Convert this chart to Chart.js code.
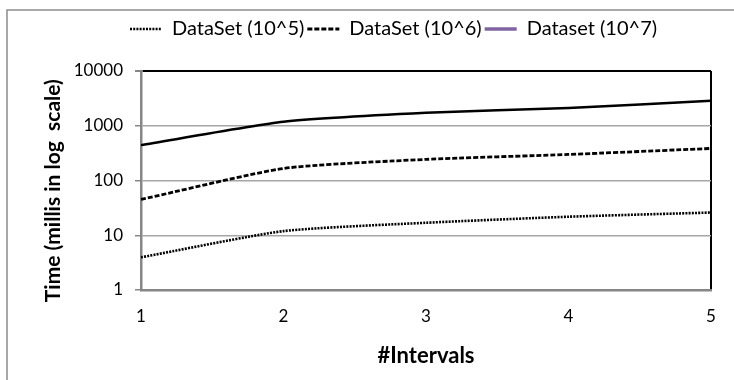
<!DOCTYPE html>
<html>
<head>
<meta charset="utf-8">
<script src="https://cdn.jsdelivr.net/npm/chart.js@4/dist/chart.umd.min.js"></script>
<style>
  body { margin: 0; background: #fff; }
  #wrap { width: 734px; height: 380px; }
</style>
</head>
<body>
<div id="wrap"><canvas id="timeChart" width="734" height="380"></canvas></div>
<script>
// values
const intervals = ['1', '2', '3', '4', '5'];
const seriesNames = ['DataSet (10^5)', 'DataSet (10^6)', 'Dataset (10^7)'];
const data1e5 = [3.95, 11.9, 16.9, 21.8, 26];
const data1e6 = [45, 166, 243, 299, 385];
const data1e7 = [443, 1180, 1720, 2120, 2850];
const yTicks = [1, 10, 100, 1000, 10000];

const FONT = "Lato, sans-serif";

// white background + outer chart frame
const framePlugin = {
    id: 'frame',
    beforeDraw(chart) {
        const ctx = chart.ctx;
        ctx.save();
        ctx.fillStyle = '#fff';
        ctx.fillRect(0, 0, chart.width, chart.height);
        ctx.strokeStyle = '#8c8c8c';
        ctx.lineWidth = 1.5;
        ctx.strokeRect(7, 10, 900, 500);
        ctx.restore();
    }
};

// push the plot area down below the legend, and move the legend right like the original
const legendPlace = {
    id: 'legendPlace',
    beforeInit(chart) {
        const fit = chart.legend.fit;
        chart.legend.fit = function () {
            fit.bind(chart.legend)();
            this.height += 22;
        };
    },
    afterLayout(chart) {
        chart.legend.left += 115;
    }
};

function renderTimeChart() {
    const ctx = document.getElementById('timeChart').getContext('2d');
    new Chart(ctx, {
        type: 'line',
        data: {
            labels: intervals,
            datasets: [{
                label: seriesNames[0],
                data: data1e5,
                borderColor: '#000',
                borderWidth: 2.6,
                borderDash: [2, 1.2]
            }, {
                label: seriesNames[1],
                data: data1e6,
                borderColor: '#000',
                borderWidth: 2.8,
                borderDash: [5, 2]
            }, {
                label: seriesNames[2],
                data: data1e7,
                borderColor: '#000',
                borderWidth: 2.5
            }]
        },
        options: {
            responsive: false,
            animation: false,
            elements: {
                point: { radius: 0 },
                line: { tension: 0.2 }
            },
            layout: { padding: { left: 12, right: 23, top: 16, bottom: 0 } },
            plugins: {
                tooltip: { enabled: false },
                legend: {
                    position: 'top',
                    align: 'start',
                    labels: {
                        usePointStyle: true,
                        pointStyleWidth: 32,
                        padding: 3,
                        color: '#000',
                        font: { family: FONT, size: 20 },
                        generateLabels(chart) {
                            const items = Chart.defaults.plugins.legend.labels.generateLabels(chart);
                            items.forEach((it, i) => {
                                const ds = chart.data.datasets[i];
                                it.pointStyle = 'line';
                                it.lineDash = ds.borderDash || [];
                                it.lineWidth = ds.borderWidth;
                                it.strokeStyle = '#000';
                            });
                            // the original legend shows the last series in purple
                            items[2].strokeStyle = '#8064a2';
                            items[2].lineWidth = 3.5;
                            return items;
                        }
                    }
                }
            },
            scales: {
                x: {
                    grid: {
                        drawTicks: false,
                        color: c => c.index === intervals.length - 1 ? '#000' : 'rgba(0,0,0,0)',
                        lineWidth: 2
                    },
                    border: { color: '#868686', width: 2.5 },
                    ticks: { color: '#000', padding: 16, font: { family: FONT, size: 17 } },
                    title: {
                        display: true,
                        text: '#Intervals',
                        color: '#000',
                        font: { family: FONT, size: 22, weight: 'bold' },
                        padding: { top: 0, bottom: 11 }
                    },
                    afterFit(scale) { scale.height = 90; }
                },
                y: {
                    type: 'logarithmic',
                    min: 1,
                    max: 10000,
                    afterBuildTicks(scale) { scale.ticks = yTicks.map(v => ({ value: v })); },
                    grid: {
                        color: c => c.tick && c.tick.value === 10000 ? '#000' : '#a6a6a6',
                        lineWidth: c => c.tick && c.tick.value === 10000 ? 2 : 1.5,
                        tickColor: '#868686',
                        tickLength: 6
                    },
                    border: { color: '#868686', width: 2.5 },
                    ticks: {
                        color: '#000',
                        padding: 12,
                        font: { family: FONT, size: 17 },
                        callback: v => String(v)
                    },
                    title: {
                        display: true,
                        text: 'Time (millis in log  scale)    ',
                        color: '#000',
                        font: { family: FONT, size: 21, weight: 'bold' },
                        padding: { top: 29, bottom: 0 }
                    },
                    afterFit(scale) { scale.width = 129; }
                }
            }
        },
        plugins: [framePlugin, legendPlace]
    });
}

renderTimeChart();
</script>
</body>
</html>
